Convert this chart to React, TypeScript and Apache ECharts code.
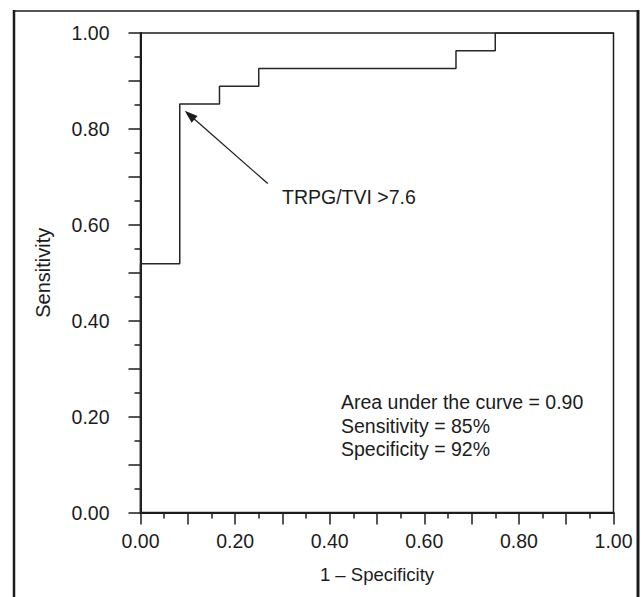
import React, { useEffect, useRef } from "react";
import * as echarts from "echarts";

// ROC curve points (1 - specificity, sensitivity)
const falsePositiveRate = [0, 0, 0.083, 0.167, 0.25, 0.667, 0.75, 1.0];
const sensitivity = [0, 0.519, 0.852, 0.889, 0.926, 0.963, 1.0, 1.0];

const xTickLabels = ["0.00", "0.20", "0.40", "0.60", "0.80", "1.00"];
const yTickLabels = ["0.00", "0.20", "0.40", "0.60", "0.80", "1.00"];

const statLines = [
  "Area under the curve = 0.90",
  "Sensitivity = 85%",
  "Specificity = 92%",
];
const cutoffLabel = "TRPG/TVI >7.6";
// arrow from label toward the cut-off point (data coordinates)
const arrowFrom = [0.269, 0.686];
const arrowTo = [0.104, 0.829];

const FONT = '"Liberation Sans", Arial, Helvetica, sans-serif';
const INK = "#1c1c1c";

function fmt(v: number, labels: string[]) {
  const s = v.toFixed(2);
  return labels.includes(s) ? s : "";
}

export default function App() {
  const ref = useRef<HTMLDivElement>(null);
  useEffect(() => {
    if (!ref.current) return;
    const chart = echarts.init(ref.current, null, { renderer: "svg" });
    const data = falsePositiveRate.map((x, i) => [x, sensitivity[i]]);
    chart.setOption({
      animation: false,
      backgroundColor: "#ffffff",
      grid: {
        left: 140.5,
        right: 27.5,
        top: 33,
        bottom: 84.5,
        show: true,
        borderColor: INK,
        borderWidth: 1.5,
        containLabel: false,
      },
      xAxis: {
        type: "value",
        min: 0,
        max: 1,
        interval: 0.1,
        name: "1 \u2013 Specificity",
        nameLocation: "middle",
        nameGap: 52,
        nameTextStyle: { fontFamily: FONT, fontSize: 18.5, color: INK },
        axisLine: { show: true, lineStyle: { color: INK, width: 2 } },
        axisTick: { show: true, length: 12, inside: false, lineStyle: { color: INK, width: 1.5 } },
        minorTick: { show: true, splitNumber: 2, length: 6, lineStyle: { color: INK, width: 1.5 } },
        axisLabel: {
          margin: 18,
          fontFamily: FONT,
          fontSize: 19.5,
          color: INK,
          formatter: (v: number) => fmt(v, xTickLabels),
        },
        splitLine: { show: false },
      },
      yAxis: {
        type: "value",
        min: 0,
        max: 1,
        interval: 0.1,
        name: "Sensitivity",
        nameLocation: "middle",
        nameGap: 88,
        nameRotate: 90,
        nameTextStyle: { fontFamily: FONT, fontSize: 20, color: INK },
        axisLine: { show: true, lineStyle: { color: INK, width: 2 } },
        axisTick: { show: true, length: 12, inside: false, lineStyle: { color: INK, width: 1.5 } },
        minorTick: { show: true, splitNumber: 2, length: 6, lineStyle: { color: INK, width: 1.5 } },
        axisLabel: {
          margin: 31,
          fontFamily: FONT,
          fontSize: 19.5,
          color: INK,
          formatter: (v: number) => fmt(v, yTickLabels),
        },
        splitLine: { show: false },
      },
      series: [
        {
          type: "line",
          data,
          step: "end",
          showSymbol: false,
          symbol: "none",
          lineStyle: { color: "#262626", width: 1.5 },
          markLine: {
            silent: true,
            animation: false,
            label: { show: false },
            lineStyle: { color: INK, width: 1.3, type: "solid" },
            symbol: ["none", "triangle"],
            symbolSize: [9, 13],
            data: [
              [
                { coord: arrowFrom, symbol: "none" },
                { coord: arrowTo, symbol: "triangle" },
              ],
            ],
          },
        },
      ],
      graphic: [
        { type: "line", shape: { x1: 14, y1: 10, x2: 14, y2: 600 }, style: { stroke: INK, lineWidth: 2.5 } },
        { type: "line", shape: { x1: 13, y1: 11, x2: 638, y2: 11 }, style: { stroke: INK, lineWidth: 1.5 } },
        { type: "line", shape: { x1: 638, y1: 10, x2: 638, y2: 600 }, style: { stroke: INK, lineWidth: 3 } },
        {
          type: "text",
          x: 282,
          y: 197,
          style: { text: cutoffLabel, font: `19.5px ${FONT}`, fill: INK, textVerticalAlign: "middle" },
        },
        ...statLines.map((t, i) => ({
          type: "text",
          x: 341,
          y: 401.7 + i * 23.8,
          style: { text: t, font: `19.5px ${FONT}`, fill: INK, textVerticalAlign: "middle" },
        })),
      ],
    });
    return () => chart.dispose();
  }, []);
  return (
    <div
      ref={ref}
      style={{ position: "fixed", left: 0, top: 0, width: 641, height: 597, background: "#fff" }}
    />
  );
}
